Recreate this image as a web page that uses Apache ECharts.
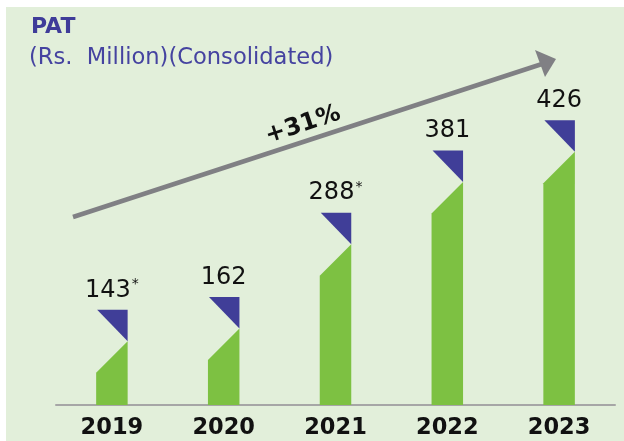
<!DOCTYPE html>
<html>
<head>
<meta charset="utf-8">
<script src="https://cdn.jsdelivr.net/npm/echarts@6/dist/echarts.min.js"></script>
<style>
html,body{margin:0;padding:0;background:#fff;}
#chart{width:624px;height:441px;}
</style>
</head>
<body>
<div id="chart"></div>
<script>
// ---- data ----
const categories = ['2019', '2020', '2021', '2022', '2023'];
const patValues = [143, 162, 288, 381, 426];
const footnoteMarks = ['*', '', '*', '', ''];
const titleText = 'PAT';
const subtitleText = '(Rs.  Million)(Consolidated)';
const cagrText = '+31%';

// ---- style ----
const GREEN = '#7DC142';
const BLUE = '#403E98';
const Y_MIN = 48, Y_MAX = 548;
const FONT = 'DejaVu Sans, Verdana, sans-serif';

const chart = echarts.init(document.getElementById('chart'), null, {renderer: 'canvas'});

function renderItem(params, api) {
  const i = api.value(0);
  const v = api.value(1);
  const top = api.coord([i, v]);
  const base = api.coord([i, Y_MIN]);
  const w = 31.5;
  const xl = top[0] - w / 2, xr = top[0] + w / 2;
  const mark = footnoteMarks[params.dataIndex];
  const txt = '{v|' + v + '}' + (mark ? '{s|' + mark + '}' : '');
  return {
    type: 'group',
    children: [
      {type: 'polygon', shape: {points: [[xl, base[1]], [xr, base[1]], [xr, top[1]], [xl, top[1] + w]]}, style: {fill: GREEN}},
      {type: 'polygon', shape: {points: [[xl + 1, top[1] - w], [xr, top[1] - w], [xr, top[1]]]}, style: {fill: BLUE}},
      {type: 'text', style: {
        text: txt, x: top[0], y: top[1] - w - 19.5, align: 'center', verticalAlign: 'middle',
        rich: {
          v: {fontSize: 24, fontFamily: FONT, fill: '#111', lineHeight: 26},
          s: {fontSize: 14, fontFamily: FONT, fill: '#111', lineHeight: 26, verticalAlign: 'top', padding: [0, 0, 0, 1]}
        }
      }}
    ]
  };
}

const option = {
  backgroundColor: '#ffffff',
  animation: false,
  grid: {left: 56, right: 9, top: 70, bottom: 36},
  xAxis: {
    type: 'category',
    data: categories,
    axisLine: {lineStyle: {color: '#A6A6A6', width: 2}},
    axisTick: {show: false},
    axisLabel: {fontSize: 22.5, fontWeight: 'bold', color: '#111', fontFamily: FONT, margin: 12, lineHeight: 22}
  },
  yAxis: {type: 'value', min: Y_MIN, max: Y_MAX, show: false},
  graphic: [
    {type: 'rect', z: -10, silent: true, shape: {x: 6, y: 7, width: 618, height: 434}, style: {fill: '#E2EFDA'}},
    {type: 'text', z: 10, style: {text: titleText, x: 31, y: 27.5, verticalAlign: 'middle', font: 'bold 22px ' + FONT, fill: '#3F3C99'}},
    {type: 'text', z: 10, style: {text: subtitleText, x: 29, y: 58.5, verticalAlign: 'middle', font: '22.6px ' + FONT, fill: '#4543A0'}},
    {type: 'line', z: 10, shape: {x1: 73, y1: 217, x2: 542, y2: 64}, style: {stroke: '#808084', lineWidth: 4.5}},
    {type: 'polygon', z: 10, shape: {points: [[556, 59], [535, 50], [545, 77]]}, style: {fill: '#808084'}},
    {type: 'text', z: 10, x: 303, y: 125, rotation: 0.316, style: {text: cagrText, x: 0, y: 0, align: 'center', verticalAlign: 'middle', font: 'bold 24px ' + FONT, fill: '#111'}}
  ],
  series: [{
    type: 'custom',
    renderItem: renderItem,
    data: patValues.map((v, i) => [i, v]),
    encode: {x: 0, y: 1}
  }]
};
chart.setOption(option);
</script>
</body>
</html>
